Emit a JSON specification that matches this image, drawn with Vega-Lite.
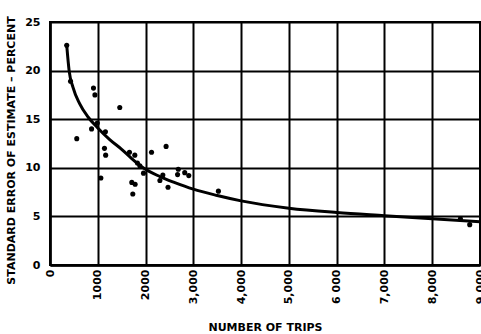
{
  "$schema": "https://vega.github.io/schema/vega-lite/v6.json",
  "width": 430,
  "height": 243,
  "autosize": "none",
  "padding": {"left": 50, "top": 22, "right": 1, "bottom": 69},
  "background": "white",
  "config": {
    "view": {"stroke": "black", "strokeWidth": 2},
    "axis": {
      "labelFont": "DejaVu Sans",
      "titleFont": "DejaVu Sans",
      "labelFontWeight": "bold",
      "titleFontWeight": "bold",
      "labelFontSize": 11,
      "titleFontSize": 11,
      "labelColor": "black",
      "titleColor": "black",
      "gridColor": "black",
      "gridOpacity": 1,
      "gridWidth": 2,
      "domainColor": "black",
      "domainWidth": 2.5,
      "ticks": false
    }
  },
  "datasets": {
    "points": [
      {"trips": 350, "error": 22.6},
      {"trips": 430, "error": 18.9},
      {"trips": 560, "error": 13.0},
      {"trips": 870, "error": 14.0},
      {"trips": 910, "error": 18.2},
      {"trips": 940, "error": 17.5},
      {"trips": 990, "error": 14.6},
      {"trips": 1065, "error": 8.95},
      {"trips": 1140, "error": 12.0},
      {"trips": 1160, "error": 13.7},
      {"trips": 1165, "error": 11.3},
      {"trips": 1460, "error": 16.2},
      {"trips": 1663, "error": 11.6},
      {"trips": 1712, "error": 8.5},
      {"trips": 1733, "error": 7.3},
      {"trips": 1775, "error": 11.3},
      {"trips": 1782, "error": 8.3},
      {"trips": 1830, "error": 10.5},
      {"trips": 1880, "error": 10.2},
      {"trips": 1957, "error": 9.45},
      {"trips": 2125, "error": 11.6},
      {"trips": 2300, "error": 8.7},
      {"trips": 2362, "error": 9.25},
      {"trips": 2430, "error": 12.2},
      {"trips": 2470, "error": 8.0},
      {"trips": 2670, "error": 9.3},
      {"trips": 2685, "error": 9.85},
      {"trips": 2820, "error": 9.5},
      {"trips": 2905, "error": 9.2},
      {"trips": 3525, "error": 7.6},
      {"trips": 8590, "error": 4.75},
      {"trips": 8785, "error": 4.15}
    ],
    "curve": [
      {"trips": 350, "error": 22.6},
      {"trips": 400, "error": 20.0},
      {"trips": 480, "error": 18.3},
      {"trips": 620, "error": 16.6},
      {"trips": 800, "error": 15.2},
      {"trips": 1000, "error": 14.1},
      {"trips": 1250, "error": 12.9},
      {"trips": 1500, "error": 11.9},
      {"trips": 1700, "error": 11.0},
      {"trips": 1950, "error": 10.0},
      {"trips": 2300, "error": 9.1},
      {"trips": 2600, "error": 8.5},
      {"trips": 3000, "error": 7.8},
      {"trips": 3500, "error": 7.15},
      {"trips": 4000, "error": 6.6},
      {"trips": 5000, "error": 5.85},
      {"trips": 6000, "error": 5.4},
      {"trips": 7000, "error": 5.07},
      {"trips": 8000, "error": 4.75},
      {"trips": 9000, "error": 4.45}
    ]
  },
  "encoding": {
    "x": {
      "field": "trips",
      "type": "quantitative",
      "scale": {"domain": [0, 9000], "nice": false, "zero": true},
      "axis": {
        "title": "NUMBER OF TRIPS",
        "values": [0, 1000, 2000, 3000, 4000, 5000, 6000, 7000, 8000, 9000],
        "labelAngle": -90,
        "labelPadding": 4,
        "labelOverlap": false,
        "labelFlush": false,
        "titlePadding": 18,
        "labelExpr": "datum.value == 1000 ? '1000' : datum.value == 2000 ? '2000' : datum.value == 6000 ? '6 000' : format(datum.value, ',')"
      }
    },
    "y": {
      "field": "error",
      "type": "quantitative",
      "scale": {"domain": [0, 25], "nice": false},
      "axis": {
        "title": "STANDARD ERROR OF ESTIMATE – PERCENT",
        "values": [0, 5, 10, 15, 20, 25],
        "labelPadding": 10,
        "titlePadding": 8,
        "titleY": 128,
        "labelFlush": false
      }
    }
  },
  "layer": [
    {
      "data": {"name": "curve"},
      "mark": {"type": "line", "color": "black", "strokeWidth": 3, "interpolate": "monotone"}
    },
    {
      "data": {"name": "points"},
      "mark": {"type": "circle", "color": "black", "opacity": 1, "size": 26}
    }
  ]
}
